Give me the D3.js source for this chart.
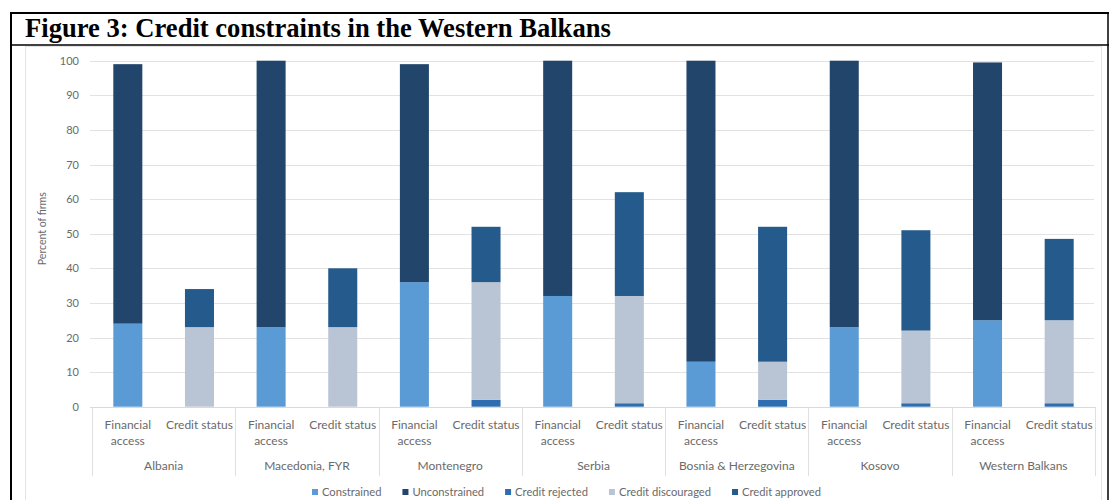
<!DOCTYPE html>
<html>
<head>
<meta charset="utf-8">
<script src="https://cdn.jsdelivr.net/npm/d3@7"></script>
<style>
  html, body { margin: 0; padding: 0; background: #fff; }
  svg { display: block; }
</style>
</head>
<body>
<svg id="chart" width="1109" height="500"></svg>
<script>
// Survey shares (percent of firms) by country
const countries = ["Albania", "Macedonia, FYR", "Montenegro", "Serbia", "Bosnia & Herzegovina", "Kosovo", "Western Balkans"];
const barTypes = ["Financial access", "Credit status"];

// Financial access bar
const constrained   = [24, 23, 36, 32, 13, 23, 25];
const unconstrained = [75, 77, 63, 68, 87, 77, 74.5];

// Credit status bar
const creditRejected    = [0, 0, 2, 1, 2, 1, 1];
const creditDiscouraged = [23, 23, 34, 31, 11, 21, 24];
const creditApproved    = [11, 17, 16, 30, 39, 29, 23.5];

const yTicks = [0, 10, 20, 30, 40, 50, 60, 70, 80, 90, 100];

const seriesNames = ["Constrained", "Unconstrained", "Credit rejected", "Credit discouraged", "Credit approved"];
const colors = {
  "Constrained": "#5b9bd5",
  "Unconstrained": "#22456b",
  "Credit rejected": "#2e6db0",
  "Credit discouraged": "#b9c4d4",
  "Credit approved": "#245a8c"
};

const svg = d3.select("#chart");
const textColor = "#6a6a6a";
const font = "Lato, 'Open Sans', sans-serif";

// Frame and title
svg.append("rect").attr("x", 25.5).attr("y", 46.5).attr("width", 1076).attr("height", 460)
  .attr("fill", "none").attr("stroke", "#e4e4e4");
svg.append("line").attr("x1", 10).attr("x2", 1109).attr("y1", 13).attr("y2", 13)
  .attr("stroke", "#000").attr("stroke-width", 2);
svg.append("line").attr("x1", 11).attr("x2", 11).attr("y1", 12).attr("y2", 500)
  .attr("stroke", "#000").attr("stroke-width", 2);
svg.append("line").attr("x1", 1108).attr("x2", 1108).attr("y1", 12).attr("y2", 500)
  .attr("stroke", "#000").attr("stroke-width", 1.5);
svg.append("line").attr("x1", 11).attr("x2", 1109).attr("y1", 45).attr("y2", 45)
  .attr("stroke", "#000").attr("stroke-width", 1.5);
svg.append("text").attr("x", 25).attr("y", 37)
  .attr("font-family", "'Liberation Serif', 'Times New Roman', serif")
  .attr("font-weight", "bold").attr("font-size", 26.6).attr("fill", "#000")
  .text("Figure 3: Credit constraints in the Western Balkans");

// Scales
const x0 = d3.scaleBand().domain(countries).range([92, 1095]).padding(0);
const x1 = d3.scaleBand().domain(barTypes).range([0, x0.bandwidth()])
  .paddingInner(0.595).paddingOuter(0.2975);
const y = d3.scaleLinear().domain([0, 100]).range([406.7, 60.7]);

// Gridlines
svg.append("g").selectAll("line").data(yTicks.filter(d => d > 0)).join("line")
  .attr("x1", 90).attr("x2", 1094)
  .attr("y1", d => Math.round(y(d)) + 0.5).attr("y2", d => Math.round(y(d)) + 0.5)
  .attr("stroke", "#e2e2e2").attr("stroke-width", 1.2);

// Y axis labels
const yAxis = d3.axisLeft(y).tickValues(yTicks).tickSize(0).tickPadding(0);
const yg = svg.append("g").attr("transform", "translate(79,0)").call(yAxis);
yg.select(".domain").remove();
yg.selectAll("text").attr("font-family", font).attr("font-size", 11).attr("fill", textColor);

svg.append("text")
  .attr("transform", `translate(46,${y(50) - 5}) rotate(-90)`)
  .attr("text-anchor", "middle").attr("font-family", font).attr("font-size", 10.5)
  .attr("fill", textColor).text("Percent of firms");

// Stacked bars
const faRows = countries.map((c, i) => ({ country: c, "Constrained": constrained[i], "Unconstrained": unconstrained[i] }));
const csRows = countries.map((c, i) => ({ country: c, "Credit rejected": creditRejected[i], "Credit discouraged": creditDiscouraged[i], "Credit approved": creditApproved[i] }));

function drawStack(rows, keys, type) {
  const stacked = d3.stack().keys(keys)(rows);
  svg.append("g").selectAll("g").data(stacked).join("g")
    .attr("fill", d => colors[d.key])
    .selectAll("rect").data(d => d).join("rect")
    .attr("x", d => x0(d.data.country) + x1(type))
    .attr("width", x1.bandwidth())
    .attr("y", d => y(d[1]))
    .attr("height", d => Math.max(0, y(d[0]) - y(d[1])));
}
drawStack(faRows, ["Constrained", "Unconstrained"], "Financial access");
drawStack(csRows, ["Credit rejected", "Credit discouraged", "Credit approved"], "Credit status");

// Category axis: baseline and group separators
svg.append("line").attr("x1", 90).attr("x2", 1095).attr("y1", 407.5).attr("y2", 407.5)
  .attr("stroke", "#d9d9d9");
const seps = countries.map(c => x0(c)).concat([x0.range()[1]]);
svg.append("g").selectAll("line").data(seps).join("line")
  .attr("x1", d => Math.round(d) + 0.5).attr("x2", d => Math.round(d) + 0.5)
  .attr("y1", 407).attr("y2", 476)
  .attr("stroke", "#e0e0e0");

// Bar type labels
const lab = svg.append("g").attr("font-family", font).attr("font-size", 12)
  .attr("fill", textColor).attr("text-anchor", "middle");
countries.forEach(c => {
  barTypes.forEach(t => {
    const cx = x0(c) + x1(t) + x1.bandwidth() / 2;
    const txt = lab.append("text").attr("x", cx).attr("y", 429);
    if (t === "Financial access") {
      txt.append("tspan").attr("x", cx).attr("dy", 0).text("Financial");
      txt.append("tspan").attr("x", cx).attr("dy", 16).text("access");
    } else {
      txt.text(t);
    }
  });
  lab.append("text").attr("x", x0(c) + x0.bandwidth() / 2).attr("y", 470).text(c);
});

// Legend
const legend = svg.append("g").attr("font-family", font).attr("font-size", 11.2).attr("fill", textColor);
let lx = 312;
seriesNames.forEach(name => {
  legend.append("rect").attr("x", lx).attr("y", 489).attr("width", 6).attr("height", 6)
    .attr("fill", colors[name]);
  const t = legend.append("text").attr("x", lx + 10).attr("y", 496).text(name);
  lx += 10 + t.node().getComputedTextLength() + 21;
});
</script>
</body>
</html>
